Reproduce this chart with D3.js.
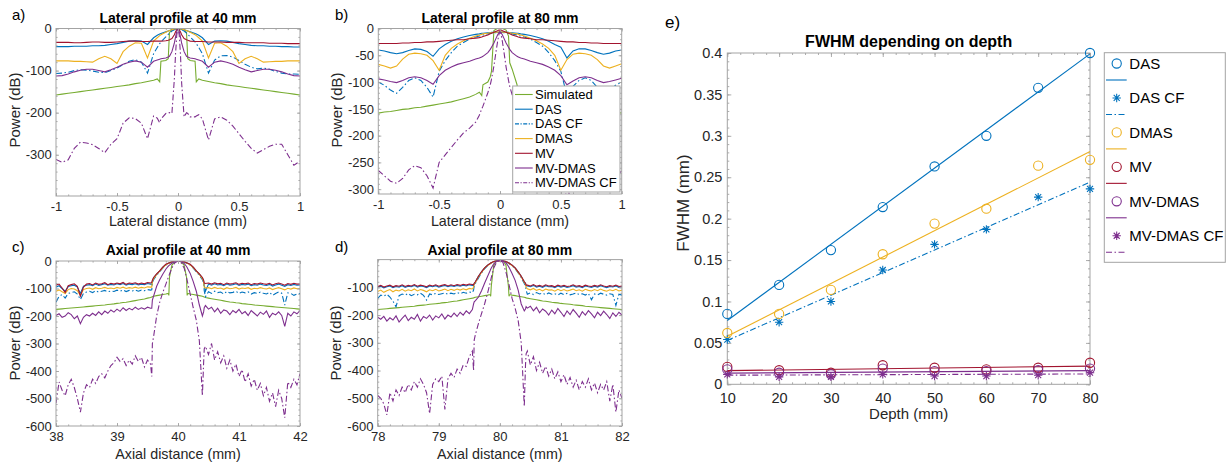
<!DOCTYPE html>
<html>
<head>
<meta charset="utf-8">
<script src="https://cdn.jsdelivr.net/npm/d3@7"></script>
<style>
body { margin: 0; background: #fff; }
svg { font-family: "Liberation Sans", Arial, sans-serif; }
</style>
</head>
<body>
<script>
// ---------- data: lateral profiles (panels a, b) ----------
var lateralX = [-1,-0.95,-0.9,-0.85,-0.8,-0.75,-0.7,-0.65,-0.6,-0.55,-0.5,-0.45,-0.4,-0.35,-0.3,-0.25,-0.2,
	-0.17,-0.15,-0.14,-0.1,-0.08,-0.07,-0.05,-0.03,-0.02,-0.01,0,0.01,0.02,0.03,0.05,0.07,0.08,0.1,0.14,0.15,0.17,
	0.2,0.25,0.3,0.35,0.4,0.45,0.5,0.55,0.6,0.65,0.7,0.75,0.8,0.85,0.9,0.95,1];

var latA_sim = [-158,-156,-154,-152,-150,-148,-146,-144,-142,-140,-138,-136,-134,-131,-129,-126,-123,
	-120,-127,-78,-76,-72,-10,-2,-1,-1,0,0,0,-1,-1,-2,-10,-72,-76,-78,-127,-120,
	-123,-126,-129,-131,-134,-136,-138,-140,-142,-144,-146,-148,-150,-152,-154,-156,-158];
var latA_das = [-43,-43,-43,-42,-42,-42,-41,-41,-40,-38,-36,-33,-30,-29,-30,-38,-22,
	-16,-13,-12,-8,-6,-5,-3,-2,-1,-1,0,-1,-1,-2,-3,-5,-6,-8,-12,-13,-16,
	-22,-38,-30,-29,-30,-33,-36,-38,-40,-41,-41,-42,-42,-43,-43,-44,-44];
var latA_dascf = [-107,-106,-104,-100,-98,-99,-101,-104,-105,-100,-94,-86,-78,-74,-80,-106,-60,
	-45,-36,-32,-20,-14,-11,-6,-3,-1,-1,0,-1,-1,-3,-6,-11,-14,-20,-32,-36,-45,
	-60,-106,-75,-65,-64,-68,-76,-85,-92,-96,-94,-97,-102,-106,-108,-108,-109];
var latA_dmas = [-77,-77,-77,-78,-78,-79,-80,-72,-66,-72,-83,-55,-42,-34,-35,-70,-30,
	-22,-17,-15,-9,-6,-5,-3,-1,-1,0,0,0,-1,-1,-3,-5,-6,-9,-15,-17,-22,
	-30,-70,-35,-34,-42,-55,-83,-72,-66,-72,-80,-79,-78,-78,-77,-77,-77];
var latA_mv = [-33,-33,-33,-34,-34,-33,-32,-32,-33,-33,-32,-31,-30,-30,-31,-31,-30,
	-30,-30,-30,-29,-28,-27,-24,-15,-8,-3,0,-3,-8,-15,-24,-27,-28,-30,-31,-31,-31,
	-31,-32,-32,-32,-33,-33,-33,-34,-34,-34,-34,-35,-35,-35,-36,-36,-36];
var latA_mvdmas = [-113,-112,-108,-103,-99,-97,-97,-100,-103,-98,-92,-85,-80,-77,-80,-92,-78,
	-75,-73,-72,-70,-68,-66,-55,-35,-20,-7,0,-7,-20,-35,-55,-66,-68,-70,-72,-73,-75,
	-78,-92,-80,-77,-80,-85,-92,-98,-103,-100,-97,-97,-99,-103,-108,-112,-113];
var latA_mvdmascf = [-311,-318,-312,-285,-270,-272,-276,-285,-295,-275,-262,-225,-212,-214,-225,-262,-208,
	-213,-224,-215,-202,-200,-200,-202,-120,-60,-15,0,-15,-60,-130,-210,-200,-202,-210,-210,-208,-205,
	-215,-265,-215,-210,-218,-232,-250,-268,-285,-296,-288,-280,-275,-275,-300,-325,-315];

var latB_sim = [-158,-156,-155,-153,-151,-150,-148,-147,-145,-143,-141,-139,-137,-134,-131,-128,-123,
	-119,-125,-105,-100,-90,-80,-4,-1,0,0,0,0,0,-1,-3,-14,-64,-76,-105,-125,-119,
	-123,-128,-131,-134,-137,-139,-141,-143,-145,-147,-148,-150,-151,-153,-155,-156,-158];
var latB_das = [-40,-42,-45,-47,-45,-41,-38,-39,-43,-52,-38,-30,-24,-19,-16,-13,-11,
	-10,-9,-9,-8,-8,-7,-7,-7,-7,-7,-7,-7,-7,-7,-7,-7,-8,-8,-9,-9,-10,
	-11,-13,-16,-19,-24,-30,-35,-55,-42,-38,-38,-41,-45,-48,-46,-42,-40];
var latB_dascf = [-100,-106,-115,-121,-110,-97,-92,-97,-110,-128,-80,-60,-45,-33,-26,-20,-16,
	-14,-13,-12,-10,-9,-9,-8,-8,-7,-7,-7,-7,-7,-8,-8,-9,-9,-10,-12,-13,-14,
	-16,-20,-26,-33,-45,-60,-80,-125,-108,-97,-92,-97,-110,-121,-115,-106,-100];
var latB_dmas = [-67,-70,-74,-70,-57,-48,-46,-47,-50,-60,-78,-50,-37,-29,-23,-18,-14,
	-12,-11,-10,-9,-8,-8,-7,-7,-7,-6,-6,-6,-7,-7,-7,-8,-8,-9,-10,-11,-12,
	-14,-18,-23,-29,-37,-50,-78,-58,-48,-46,-47,-50,-58,-70,-74,-70,-66];
var latB_mv = [-28,-28,-28,-28,-27,-27,-26,-26,-25,-25,-24,-23,-22,-21,-21,-19,-18,
	-17,-16,-15,-12,-10,-9,-7,-5,-4,-3,-3,-3,-4,-5,-7,-9,-10,-12,-15,-16,-17,
	-18,-19,-21,-21,-22,-23,-24,-25,-25,-26,-26,-27,-27,-28,-28,-28,-28];
var latB_mvdmas = [-94,-96,-99,-101,-97,-92,-90,-92,-97,-104,-88,-78,-72,-67,-64,-61,-57,
	-55,-53,-52,-45,-39,-35,-27,-17,-12,-8,-6,-8,-12,-17,-27,-35,-39,-45,-52,-53,-55,
	-57,-61,-64,-67,-72,-78,-88,-105,-98,-92,-90,-92,-97,-101,-99,-96,-93];
var latB_mvdmascf = [-265,-275,-285,-289,-280,-264,-256,-260,-275,-298,-250,-236,-222,-208,-195,-186,-175,
	-162,-150,-145,-120,-105,-95,-70,-39,-25,-12,-6,-12,-25,-40,-72,-97,-108,-124,-148,-154,-165,
	-178,-190,-200,-212,-226,-240,-258,-320,-285,-262,-258,-266,-282,-290,-285,-276,-266];

// ---------- data: axial profiles (panels c, d), offset from focus in mm ----------
var axialOffset = [-2,-1.95,-1.9,-1.85,-1.8,-1.75,-1.7,-1.65,-1.6,-1.55,-1.5,-1.45,-1.4,-1.35,-1.3,-1.25,
	-1.2,-1.15,-1.1,-1.05,-1,-0.95,-0.9,-0.85,-0.8,-0.75,-0.7,-0.65,-0.6,-0.55,-0.5,-0.45,
	-0.43,-0.42,-0.4,-0.35,-0.3,-0.25,-0.2,-0.16,-0.15,-0.14,-0.1,-0.05,0,0.05,0.1,0.14,0.15,0.16,0.2,0.25,0.3,0.35,0.4,0.42,0.43,
	0.45,0.5,0.55,0.6,0.65,0.7,0.75,0.8,0.85,0.9,0.95,1,1.05,1.1,1.15,1.2,
	1.25,1.3,1.35,1.4,1.45,1.5,1.55,1.6,1.65,1.7,1.75,1.8,1.85,1.9,1.95,2];

var axC_sim = [-176,-175,-174,-173,-172,-171,-170,-169,-168,-167,-166,-165,-164,-163,-162,-161,-160,-158,-157,-156,-154,-153,-151,-150,-148,-146,-144,-142,-140,-138,-135,-133,
	-131,-130,-128,-126,-124,-122,-120,-118,-125,-60,-15,-3,0,-3,-15,-60,-125,-118,-120,-122,-124,-126,-128,-130,-131,
	-133,-135,-137,-139,-141,-143,-145,-147,-149,-150,-152,-153,-155,-156,-157,-158,-160,-161,-162,-163,-164,-165,-166,-167,-168,-169,-170,-171,-172,-173,-174,-175];
var axC_das = [-95,-90,-100,-110,-93,-90,-88,-95,-118,-92,-88,-86,-90,-84,-89,-86,-83,-88,-85,-87,-83,-86,-82,-88,-84,-86,-83,-87,-84,-86,-82,-84,
	-86,-72,-62,-48,-36,-23,-13,-8,-7,-6,-3,-1,0,-1,-3,-6,-7,-8,-13,-23,-36,-48,-62,-72,-88,
	-110,-84,-88,-83,-87,-85,-90,-84,-88,-86,-83,-89,-85,-87,-84,-90,-86,-88,-84,-87,-89,-85,-91,-87,-84,-88,-92,-86,-89,-85,-88,-87];
var axC_dascf = [-150,-128,-122,-135,-118,-115,-112,-120,-140,-118,-113,-110,-115,-108,-113,-110,-107,-112,-109,-111,-106,-110,-105,-111,-107,-109,-105,-110,-106,-108,-104,-106,
	-105,-80,-68,-52,-39,-26,-15,-10,-9,-8,-4,-1,0,-1,-4,-8,-9,-10,-15,-26,-39,-52,-68,-80,-108,
	-130,-112,-118,-110,-115,-113,-120,-111,-116,-114,-110,-118,-113,-116,-112,-120,-115,-118,-113,-117,-120,-114,-125,-118,-113,-117,-160,-116,-118,-125,-120,-118];
var axC_dmas = [-110,-105,-112,-118,-104,-100,-102,-108,-125,-104,-100,-98,-103,-97,-101,-99,-96,-100,-98,-101,-96,-99,-95,-100,-97,-99,-95,-99,-96,-98,-94,-95,
	-95,-75,-64,-49,-37,-24,-14,-9,-8,-7,-3,-1,0,-1,-3,-7,-8,-9,-14,-24,-37,-49,-64,-75,-96,
	-98,-97,-101,-96,-100,-98,-103,-97,-101,-99,-96,-102,-98,-100,-97,-103,-99,-101,-97,-100,-102,-98,-104,-100,-97,-101,-105,-99,-102,-98,-101,-100];
var axC_mv = [-88,-84,-98,-115,-90,-86,-83,-92,-128,-95,-84,-82,-87,-80,-85,-83,-79,-86,-81,-84,-80,-83,-78,-85,-80,-82,-79,-84,-80,-83,-78,-80,
	-78,-70,-60,-47,-36,-22,-12,-8,-7,-6,-3,-1,0,-1,-3,-6,-7,-8,-12,-22,-36,-47,-60,-70,-80,
	-82,-80,-84,-79,-83,-81,-86,-80,-84,-82,-79,-85,-81,-83,-80,-86,-82,-84,-80,-83,-85,-81,-87,-83,-80,-84,-88,-82,-85,-81,-84,-83];
var axC_mvdmas = [-198,-192,-205,-200,-188,-195,-210,-200,-228,-205,-195,-200,-190,-198,-185,-195,-182,-190,-178,-186,-175,-183,-170,-180,-172,-178,-168,-176,-170,-175,-168,-172,
	-172,-142,-128,-92,-68,-48,-30,-19,-17,-15,-8,-2,0,-2,-9,-20,-24,-28,-45,-75,-110,-160,-200,-185,-170,
	-162,-175,-168,-185,-172,-190,-178,-182,-195,-180,-188,-176,-192,-184,-198,-180,-190,-200,-186,-194,-182,-205,-190,-196,-185,-198,-238,-190,-200,-185,-192,-180];
var axC_mvdmascf = [-517,-440,-470,-490,-450,-430,-460,-500,-550,-480,-450,-460,-430,-445,-420,-410,-425,-400,-380,-370,-350,-365,-355,-380,-360,-375,-345,-365,-350,-385,-360,-375,
	-420,-300,-275,-200,-150,-115,-85,-60,-55,-48,-25,-6,0,-6,-25,-60,-70,-80,-120,-170,-215,-290,-490,-370,-320,
	-310,-340,-300,-360,-330,-370,-345,-390,-360,-400,-375,-420,-395,-440,-410,-455,-430,-470,-445,-490,-460,-510,-480,-530,-470,-500,-570,-440,-460,-430,-450,-410];

var axD_sim = [-180,-179,-178,-177,-176,-175,-174,-173,-172,-171,-170,-169,-168,-166,-165,-164,-163,-161,-160,-159,-158,-156,-155,-154,-152,-150,-149,-147,-145,-143,-141,-139,
	-138,-137,-136,-134,-132,-130,-128,-126,-132,-95,-20,-3,-2,-3,-20,-95,-132,-126,-128,-130,-132,-134,-136,-137,-138,
	-139,-141,-143,-145,-147,-149,-150,-152,-154,-155,-156,-158,-159,-160,-161,-163,-164,-165,-166,-168,-169,-170,-171,-172,-173,-174,-175,-176,-177,-178,-179,-180];
var axD_das = [-100,-96,-102,-98,-95,-101,-97,-99,-94,-100,-96,-98,-93,-99,-95,-97,-101,-95,-98,-94,-99,-96,-93,-98,-94,-97,-93,-96,-92,-95,-91,-93,
	-94,-86,-80,-60,-44,-30,-20,-14,-12,-11,-7,-4,-3,-4,-7,-11,-12,-14,-20,-30,-44,-60,-80,-86,-94,
	-95,-98,-93,-99,-96,-100,-94,-98,-97,-101,-95,-99,-96,-100,-98,-94,-99,-97,-101,-95,-98,-100,-96,-99,-94,-98,-101,-97,-99,-95,-100,-98];
var axD_dascf = [-140,-128,-132,-125,-135,-150,-170,-130,-124,-128,-122,-130,-125,-127,-121,-129,-146,-124,-127,-122,-126,-123,-120,-125,-121,-124,-119,-123,-118,-121,-117,-119,
	-110,-95,-86,-66,-48,-33,-22,-16,-14,-13,-8,-4,-3,-4,-8,-13,-14,-16,-22,-33,-48,-66,-86,-95,-110,
	-125,-120,-126,-119,-124,-121,-127,-120,-125,-123,-128,-121,-126,-122,-127,-124,-120,-126,-123,-128,-122,-145,-124,-127,-121,-125,-128,-123,-126,-165,-125,-128];
var axD_dmas = [-115,-110,-118,-112,-108,-116,-110,-113,-107,-114,-109,-112,-106,-113,-108,-111,-116,-109,-112,-107,-113,-110,-106,-112,-107,-111,-106,-110,-105,-109,-104,-106,
	-100,-88,-82,-62,-46,-31,-21,-15,-13,-12,-7,-4,-3,-4,-7,-12,-13,-15,-21,-31,-46,-62,-82,-88,-100,
	-105,-109,-104,-111,-107,-113,-106,-110,-109,-114,-107,-112,-108,-113,-110,-106,-112,-109,-114,-107,-111,-113,-108,-112,-106,-111,-114,-109,-112,-107,-113,-110];
var axD_mv = [-97,-93,-99,-95,-92,-98,-94,-96,-91,-97,-93,-95,-90,-96,-92,-94,-98,-92,-95,-91,-96,-93,-90,-95,-91,-94,-90,-93,-89,-92,-88,-90,
	-92,-85,-80,-60,-44,-30,-20,-14,-12,-11,-7,-5,-4,-5,-7,-11,-12,-14,-20,-30,-44,-60,-80,-85,-92,
	-92,-95,-90,-96,-93,-97,-91,-95,-94,-98,-92,-96,-93,-97,-95,-91,-96,-94,-98,-92,-95,-97,-93,-96,-91,-95,-98,-94,-96,-92,-97,-95];
var axD_mvdmas = [-208,-215,-205,-222,-210,-218,-203,-225,-212,-200,-220,-208,-215,-198,-222,-205,-212,-200,-218,-203,-210,-196,-214,-200,-207,-193,-205,-190,-200,-185,-195,-180,
	-160,-152,-148,-135,-112,-85,-60,-40,-35,-30,-15,-5,-2,-4,-12,-24,-28,-32,-50,-75,-110,-160,-185,-178,-170,
	-175,-168,-185,-172,-192,-178,-186,-200,-182,-195,-176,-190,-205,-185,-198,-180,-193,-208,-188,-200,-184,-196,-210,-190,-202,-186,-198,-212,-192,-205,-190,-200];
var axD_mvdmascf = [-490,-500,-520,-560,-480,-510,-470,-490,-460,-480,-450,-470,-440,-460,-430,-450,-480,-555,-450,-430,-440,-420,-540,-430,-410,-425,-395,-410,-380,-385,-350,-330,
	-400,-290,-270,-230,-195,-160,-120,-85,-75,-65,-30,-8,-2,-10,-45,-80,-90,-100,-140,-175,-220,-300,-530,-380,-340,
	-330,-380,-350,-400,-370,-410,-385,-420,-395,-430,-405,-440,-415,-450,-425,-460,-435,-470,-440,-460,-430,-470,-445,-480,-450,-470,-440,-510,-450,-550,-470,-500];

// ---------- data: FWHM vs depth (panel e) ----------
var depth = [10, 20, 30, 40, 50, 60, 70, 80];
var fwhmDAS = [0.085, 0.120, 0.162, 0.214, 0.263, 0.300, 0.358, 0.400];
var fwhmDASCF = [0.054, 0.075, 0.100, 0.138, 0.169, 0.187, 0.226, 0.236];
var fwhmDMAS = [0.062, 0.085, 0.114, 0.157, 0.194, 0.212, 0.264, 0.271];
var fwhmMV = [0.021, 0.017, 0.014, 0.023, 0.020, 0.018, 0.020, 0.026];
var fwhmMVDMAS = [0.018, 0.014, 0.012, 0.019, 0.016, 0.016, 0.017, 0.019];
var fwhmMVDMASCF = [0.012, 0.009, 0.009, 0.012, 0.010, 0.010, 0.011, 0.014];
// linear fit end points (at depth 10 and 80)
var fitDepth = [10, 80];
var fitDAS = [0.077, 0.399];
var fitDASCF = [0.053, 0.244];
var fitDMAS = [0.058, 0.281];
var fitMV = [0.0165, 0.022];
var fitMVDMAS = [0.0135, 0.0165];
var fitMVDMASCF = [0.011, 0.0125];

var seriesNames = ["Simulated", "DAS", "DAS CF", "DMAS", "MV", "MV-DMAS", "MV-DMAS CF"];

// ---------- styles ----------
var seriesColors = ["#77AC30", "#0072BD", "#0072BD", "#EDB120", "#A2142F", "#7E2F8E", "#7E2F8E"];
var dashDot = "6,2.5,1.5,2.5";
var seriesDash = [null, null, dashDot, null, null, null, dashDot];
var axisColor = "#a3a3a3";
var textColor = "#262626";

var svg = d3.select("body").append("svg")
	.attr("width", 1232)
	.attr("height", 464);

function styleAxis(sel, fs) {
	sel.select(".domain").remove();
	sel.attr("font-size", fs).attr("font-family", null);
	sel.selectAll(".tick line").attr("stroke", axisColor).attr("stroke-width", 0.9);
	sel.selectAll(".tick text").attr("fill", textColor);
}

function roundAll(arr) {
	return arr.map(function(v) { return +v.toFixed(4); });
}

function drawAxes(p, x, y) {
	var g = svg.append("g");
	var noLabel = function() { return ""; };
	var fmt = function(d) { return String(d); };

	// minor ticks on all four sides
	g.append("g").attr("transform", "translate(0," + p.bottom + ")")
		.call(d3.axisBottom(x).tickValues(p.xMinor).tickSize(-p.minorLen).tickFormat(noLabel))
		.call(styleAxis, p.tickFont);
	g.append("g").attr("transform", "translate(0," + p.top + ")")
		.call(d3.axisTop(x).tickValues(p.xMinor).tickSize(-p.minorLen).tickFormat(noLabel))
		.call(styleAxis, p.tickFont);
	g.append("g").attr("transform", "translate(" + p.left + ",0)")
		.call(d3.axisLeft(y).tickValues(p.yMinor).tickSize(-p.minorLen).tickFormat(noLabel))
		.call(styleAxis, p.tickFont);
	g.append("g").attr("transform", "translate(" + p.right + ",0)")
		.call(d3.axisRight(y).tickValues(p.yMinor).tickSize(-p.minorLen).tickFormat(noLabel))
		.call(styleAxis, p.tickFont);

	// major ticks
	g.append("g").attr("transform", "translate(0," + p.bottom + ")")
		.call(d3.axisBottom(x).tickValues(p.xTicks).tickSize(-p.majorLen).tickPadding(p.xPad).tickFormat(fmt))
		.call(styleAxis, p.tickFont);
	g.append("g").attr("transform", "translate(0," + p.top + ")")
		.call(d3.axisTop(x).tickValues(p.xTicks).tickSize(-p.majorLen).tickFormat(noLabel))
		.call(styleAxis, p.tickFont);
	g.append("g").attr("transform", "translate(" + p.left + ",0)")
		.call(d3.axisLeft(y).tickValues(p.yTicks).tickSize(-p.majorLen).tickPadding(p.yPad).tickFormat(fmt))
		.call(styleAxis, p.tickFont);
	g.append("g").attr("transform", "translate(" + p.right + ",0)")
		.call(d3.axisRight(y).tickValues(p.yTicks).tickSize(-p.majorLen).tickFormat(noLabel))
		.call(styleAxis, p.tickFont);

	// box
	g.append("rect")
		.attr("x", p.left).attr("y", p.top)
		.attr("width", p.right - p.left).attr("height", p.bottom - p.top)
		.attr("fill", "none")
		.attr("stroke", axisColor)
		.attr("stroke-width", 1);

	// title and labels
	svg.append("text")
		.attr("x", (p.left + p.right) / 2).attr("y", p.titleY)
		.attr("text-anchor", "middle")
		.attr("font-size", p.titleFont).attr("font-weight", "bold")
		.attr("fill", "#000")
		.text(p.title);
	svg.append("text")
		.attr("x", (p.left + p.right) / 2).attr("y", p.xLabelY)
		.attr("text-anchor", "middle")
		.attr("font-size", p.labelFont)
		.attr("fill", textColor)
		.text(p.xLabel);
	svg.append("text")
		.attr("transform", "translate(" + p.yLabelX + "," + p.yLabelCy + ") rotate(-90)")
		.attr("text-anchor", "middle")
		.attr("font-size", p.yLabelFont || p.labelFont)
		.attr("fill", textColor)
		.text(p.yLabel);
	svg.append("text")
		.attr("x", p.tagX).attr("y", p.tagY)
		.attr("font-size", p.tagFont)
		.attr("fill", "#000")
		.text(p.tag);
}

function drawProfile(p) {
	var x = d3.scaleLinear().domain(p.xDomain).range([p.left, p.right]);
	var y = d3.scaleLinear().domain(p.yDomain).range([p.bottom, p.top]);

	svg.append("clipPath").attr("id", "clip-" + p.id)
		.append("rect")
		.attr("x", p.left).attr("y", p.top)
		.attr("width", p.right - p.left).attr("height", p.bottom - p.top);

	var plot = svg.append("g").attr("clip-path", "url(#clip-" + p.id + ")");
	var line = d3.line()
		.x(function(d) { return x(d[0]); })
		.y(function(d) { return y(d[1]); });

	p.series.forEach(function(vals, i) {
		var pts = vals.map(function(v, k) { return [p.xs[k], v]; });
		plot.append("path")
			.datum(pts)
			.attr("d", line)
			.attr("fill", "none")
			.attr("stroke", seriesColors[i])
			.attr("stroke-width", 1.1)
			.attr("stroke-dasharray", seriesDash[i]);
	});

	drawAxes(p, x, y);
}

var common = {
	majorLen: 3, minorLen: 1.6, tickFont: 13, titleFont: 14, labelFont: 14.3,
	yLabelFont: 15, tagFont: 15, xPad: 5.5, yPad: 4.3
};

// a) lateral 40 mm
drawProfile(Object.assign({}, common, {
	id: "a", left: 56, right: 300, top: 28.5, bottom: 196,
	xDomain: [-1, 1], yDomain: [-398, 0],
	xs: lateralX,
	series: [latA_sim, latA_das, latA_dascf, latA_dmas, latA_mv, latA_mvdmas, latA_mvdmascf],
	xTicks: [-1, -0.5, 0, 0.5, 1], xMinor: roundAll(d3.range(-1, 1.0001, 0.1)),
	yTicks: [-300, -200, -100, 0], yMinor: d3.range(0, -399, -20),
	title: "Lateral profile at 40 mm", titleY: 23,
	xLabel: "Lateral distance (mm)", xLabelY: 226,
	yLabel: "Power (dB)", yLabelX: 20, yLabelCy: 110,
	tag: "a)", tagX: 12, tagY: 20
}));

// b) lateral 80 mm
drawProfile(Object.assign({}, common, {
	id: "b", left: 378.3, right: 621.7, top: 28.5, bottom: 194,
	xDomain: [-1, 1], yDomain: [-309, 0],
	xs: lateralX,
	series: [latB_sim, latB_das, latB_dascf, latB_dmas, latB_mv, latB_mvdmas, latB_mvdmascf],
	xTicks: [-1, -0.5, 0, 0.5, 1], xMinor: roundAll(d3.range(-1, 1.0001, 0.1)),
	yTicks: [-300, -250, -200, -150, -100, -50, 0], yMinor: d3.range(0, -310, -10),
	title: "Lateral profile at 80 mm", titleY: 23,
	xLabel: "Lateral distance (mm)", xLabelY: 226,
	yLabel: "Power (dB)", yLabelX: 342, yLabelCy: 110,
	tag: "b)", tagX: 335, tagY: 20
}));

// c) axial 40 mm
drawProfile(Object.assign({}, common, {
	id: "c", left: 56, right: 300, top: 261, bottom: 426,
	xDomain: [38, 42], yDomain: [-600, 0],
	xs: axialOffset.map(function(o) { return 40 + o; }),
	series: [axC_sim, axC_das, axC_dascf, axC_dmas, axC_mv, axC_mvdmas, axC_mvdmascf],
	xTicks: [38, 39, 40, 41, 42], xMinor: roundAll(d3.range(38, 42.0001, 0.2)),
	yTicks: [-600, -500, -400, -300, -200, -100, 0], yMinor: d3.range(0, -601, -20),
	title: "Axial profile at 40 mm", titleY: 255,
	xLabel: "Axial distance (mm)", xLabelY: 459,
	yLabel: "Power (dB)", yLabelX: 20, yLabelCy: 343,
	tag: "c)", tagX: 12, tagY: 252
}));

// d) axial 80 mm
drawProfile(Object.assign({}, common, {
	id: "d", left: 377.7, right: 622, top: 259.6, bottom: 426,
	xDomain: [78, 82], yDomain: [-600, 0],
	xs: axialOffset.map(function(o) { return 80 + o; }),
	series: [axD_sim, axD_das, axD_dascf, axD_dmas, axD_mv, axD_mvdmas, axD_mvdmascf],
	xTicks: [78, 79, 80, 81, 82], xMinor: roundAll(d3.range(78, 82.0001, 0.2)),
	yTicks: [-600, -500, -400, -300, -200, -100], yMinor: d3.range(0, -601, -20),
	title: "Axial profile at 80 mm", titleY: 255,
	xLabel: "Axial distance (mm)", xLabelY: 459,
	yLabel: "Power (dB)", yLabelX: 341, yLabelCy: 343,
	tag: "d)", tagX: 335, tagY: 252
}));

// legend of panel b
(function() {
	var lg = svg.append("g");
	lg.append("rect")
		.attr("x", 512.7).attr("y", 86)
		.attr("width", 107.3).attr("height", 106)
		.attr("fill", "#fff").attr("stroke", axisColor);
	seriesNames.forEach(function(name, i) {
		var yy = 94.5 + i * 14.7;
		lg.append("line")
			.attr("x1", 515).attr("x2", 532.7).attr("y1", yy).attr("y2", yy)
			.attr("stroke", seriesColors[i]).attr("stroke-width", 1.1)
			.attr("stroke-dasharray", i === 2 || i === 6 ? "4,1.5,1.2,1.5" : null);
		lg.append("text")
			.attr("x", 535).attr("y", yy).attr("dy", "0.35em")
			.attr("font-size", 13).attr("fill", "#000")
			.text(name);
	});
})();

// ---------- panel e ----------
var eNames = ["DAS", "DAS CF", "DMAS", "MV", "MV-DMAS", "MV-DMAS CF"];
var ePoints = [fwhmDAS, fwhmDASCF, fwhmDMAS, fwhmMV, fwhmMVDMAS, fwhmMVDMASCF];
var eFits = [fitDAS, fitDASCF, fitDMAS, fitMV, fitMVDMAS, fitMVDMASCF];
var eColors = ["#0072BD", "#0072BD", "#EDB120", "#A2142F", "#7E2F8E", "#7E2F8E"];
var eMarkers = ["circle", "star", "circle", "circle", "circle", "star"];
var eDash = [null, dashDot, null, null, null, dashDot];

var starPath = "M-4.2,0H4.2M0,-4.2V4.2M-3,-3L3,3M-3,3L3,-3";

function drawMarker(g, type, cx, cy, color) {
	if (type === "circle") {
		g.append("circle")
			.attr("cx", cx).attr("cy", cy).attr("r", 4.6)
			.attr("fill", "none").attr("stroke", color).attr("stroke-width", 1.1);
	} else {
		g.append("path")
			.attr("transform", "translate(" + cx + "," + cy + ")")
			.attr("d", starPath)
			.attr("fill", "none").attr("stroke", color).attr("stroke-width", 1.1);
	}
}

(function() {
	var p = {
		left: 727.3, right: 1090, top: 53, bottom: 384.3,
		majorLen: 4, minorLen: 2, tickFont: 14.5, titleFont: 16, labelFont: 15,
		yLabelFont: 17, tagFont: 17, xPad: 8, yPad: 5,
		xTicks: depth, xMinor: d3.range(10, 80.001, 2.5),
		yTicks: [0, 0.05, 0.1, 0.15, 0.2, 0.25, 0.3, 0.35, 0.4], yMinor: roundAll(d3.range(0, 0.4001, 0.01)),
		title: "FWHM depending on depth", titleY: 47,
		xLabel: "Depth (mm)", xLabelY: 419,
		yLabel: "FWHM (mm)", yLabelX: 689, yLabelCy: 203,
		tag: "e)", tagX: 665, tagY: 28
	};
	var x = d3.scaleLinear().domain([10, 80]).range([p.left, p.right]);
	var y = d3.scaleLinear().domain([0, 0.4]).range([p.bottom, p.top]);

	drawAxes(p, x, y);

	var g = svg.append("g");
	var line = d3.line()
		.x(function(d) { return x(d[0]); })
		.y(function(d) { return y(d[1]); });

	eFits.forEach(function(f, i) {
		g.append("path")
			.datum(fitDepth.map(function(d, k) { return [d, f[k]]; }))
			.attr("d", line)
			.attr("fill", "none")
			.attr("stroke", eColors[i]).attr("stroke-width", 1.1)
			.attr("stroke-dasharray", eDash[i]);
	});
	ePoints.forEach(function(vals, i) {
		vals.forEach(function(v, k) {
			drawMarker(g, eMarkers[i], x(depth[k]), y(v), eColors[i]);
		});
	});

	// legend
	var lg = svg.append("g");
	lg.append("rect")
		.attr("x", 1104.3).attr("y", 52.7)
		.attr("width", 121).attr("height", 209.6)
		.attr("fill", "#fff").attr("stroke", axisColor);
	eNames.forEach(function(name, i) {
		var ym = 63.5 + i * 34.45;
		var yl = ym + 16.5;
		drawMarker(lg, eMarkers[i], 1116.7, ym, eColors[i]);
		lg.append("text")
			.attr("x", 1129.3).attr("y", ym).attr("dy", "0.35em")
			.attr("font-size", 15).attr("fill", "#000")
			.text(name);
		lg.append("line")
			.attr("x1", 1106).attr("x2", 1126.7).attr("y1", yl).attr("y2", yl)
			.attr("stroke", eColors[i]).attr("stroke-width", 1.1)
			.attr("stroke-dasharray", eDash[i]);
	});
})();
</script>
</body>
</html>
